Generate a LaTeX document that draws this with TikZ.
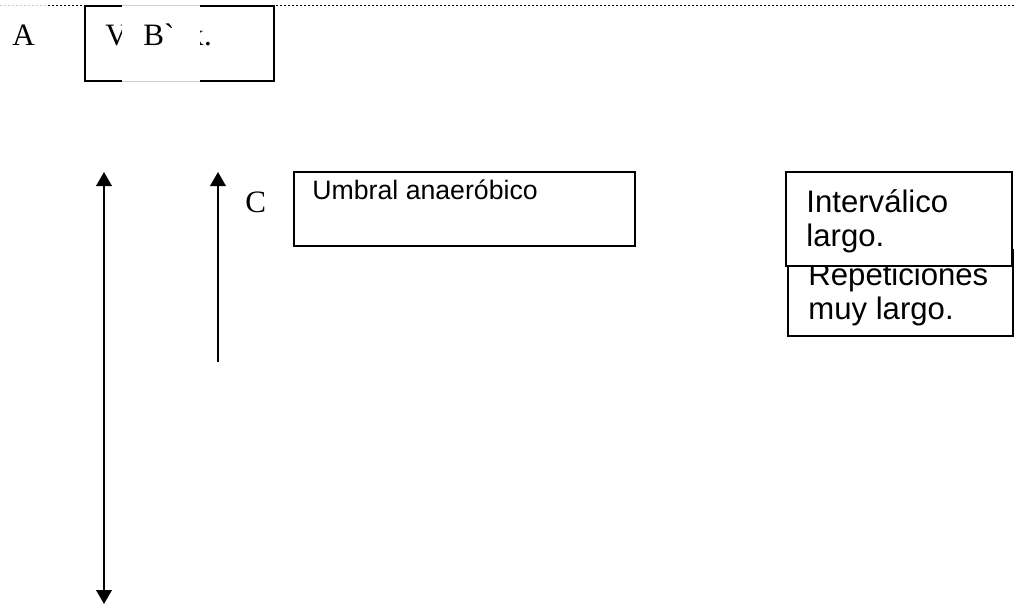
\documentclass[tikz,border=0pt]{standalone}
\usepackage{fontspec}
\setmainfont{Liberation Serif}
\setsansfont{Liberation Sans}
\usetikzlibrary{arrows.meta,positioning,fit}

\begin{document}
\begin{tikzpicture}[
  x=0.45pt, y=-0.45pt,
  box/.style={draw=black, line width=0.75pt, inner sep=0pt, fill=white},
  letter/.style={anchor=base west, inner sep=0pt, font=\fontsize{14}{16}\selectfont},
  boxtext/.style={anchor=base west, inner sep=0pt, align=left, font=\sffamily\fontsize{14}{15}\selectfont},
  flow/.style={-{Triangle[length=6.3pt,width=7pt]}, line width=0.9pt},
  both/.style={{Triangle[length=6.3pt,width=7pt]}-{Triangle[length=6.3pt,width=7pt]}, line width=0.9pt},
  rule/.style={line width=0.8pt, dash pattern=on 0.8pt off 1pt},
]
\useasboundingbox (0,0) rectangle (1015,605);

% ---------- dotted top rule ----------
\coordinate (R0) at (0,5.5);
\coordinate (R1) at (48,5.5);
\coordinate (R2) at (1015,5.5);
\draw[rule, black!20] (R0) -- (R1);
\draw[rule, black] (R1) -- (R2);

% ---------- top row: A and the covered box ----------
\node[letter] (A) at (12,46) {A};
\node[box, fill=none, fit={(85,6) (274,81)}] (topbox) {};
\node[letter] (V) at (105,46) {V};
\node[letter] (X) at (188,46) {x.};
\node[fill=white, inner sep=0pt, fit={(122,6) (200,81)}] (patch) {};
\draw[black!18, line width=0.75pt] (patch.north west) -- (patch.north east);
\draw[black!18, line width=0.75pt] (patch.south west) -- (patch.south east);
\node[letter] (B) at (143,46) {B\textasciigrave};

% ---------- arrows ----------
\coordinate (L1) at (104,172);
\coordinate (L2) at (104,604);
\coordinate (M1) at (218,362);
\coordinate (M2) at (218,172);
\draw[both] (L1) -- (L2);
\draw[flow] (M1) -- (M2);
\node[letter] (C) at (245,212) {C};

% ---------- boxes ----------
% (multi-line text: base = last line)
\node[box, fit={(294,172) (635,246)}] (umbral) {};
\node[boxtext, font=\sffamily\fontsize{12}{14}\selectfont] (Tumbral) at (312,200) {Umbral anaeróbico};

\node[box, fit={(788,250) (1013,336)}] (repet) {};
\node[boxtext] (Trepet) at (808,319) {Repeticiones\\muy largo.};

\node[box, fit={(786,172) (1012,266)}] (interv) {};
\node[boxtext] (Tinterv) at (806,246) {Interválico\\largo.};
\end{tikzpicture}
\end{document}
